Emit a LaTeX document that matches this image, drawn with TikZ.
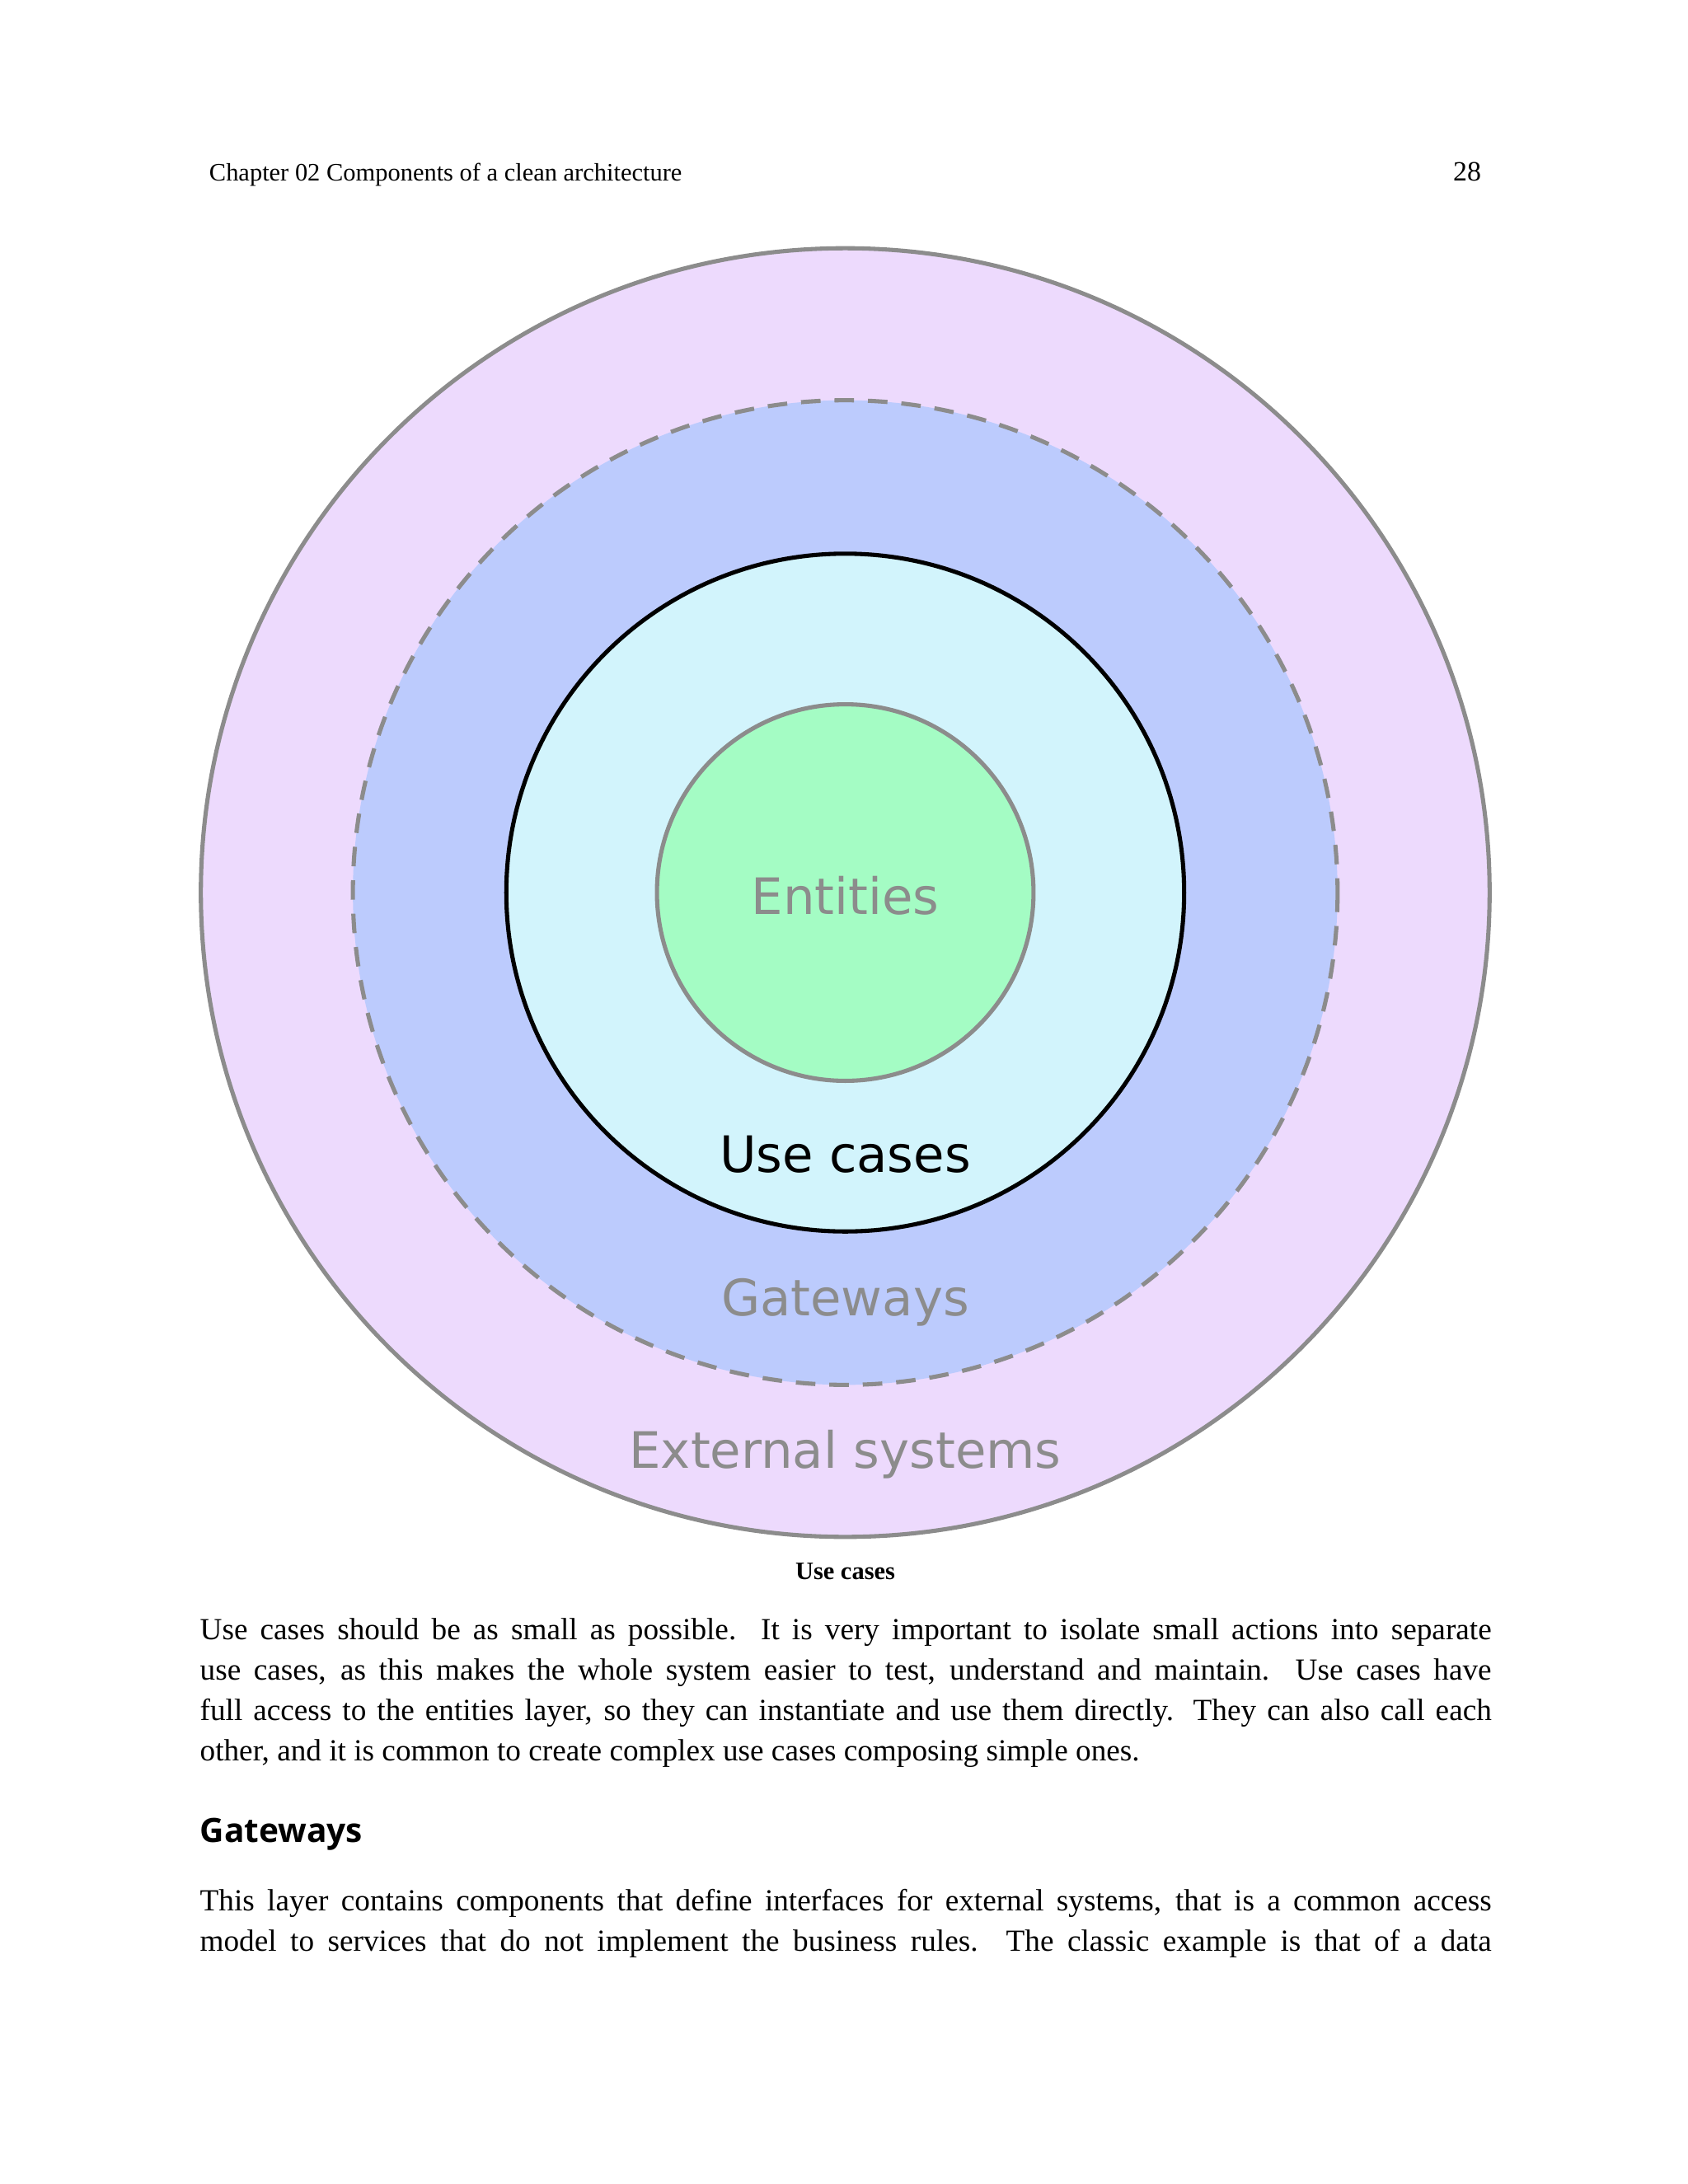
\documentclass[tikz,border=0pt]{standalone}
\usepackage{fontspec}
\setmainfont{Liberation Serif}
\newfontfamily\dejavu{DejaVu Sans}
\newfontfamily\opensans{Open Sans}
\begin{document}
\begin{tikzpicture}[x=0.5pt,y=-0.5pt,
  ring/.style={line width=1.5pt},
  lab/.style={font=\dejavu\fontsize{18}{20}\selectfont, text=black!45}]
\useasboundingbox[fill=white] (0,0) rectangle (1210,1566);
\node[anchor=base west,font=\fontsize{9}{10}\selectfont] (hdr) at (143,130) {Chapter 02 Components of a clean architecture};
\node[anchor=base east,font=\fontsize{10}{11}\selectfont] (pg) at (1069,130) {28};
\draw[ring,draw=black!45,fill={rgb,255:red,237;green,218;blue,253}] (606,640) circle (462);
\draw[ring,draw=black!45,dash pattern=on 7pt off 5pt,fill={rgb,255:red,188;green,203;blue,253}] (606,640) circle (353);
\draw[ring,draw=black,fill={rgb,255:red,210;green,244;blue,252}] (606,640) circle (243);
\draw[ring,draw=black!45,fill={rgb,255:red,164;green,252;blue,196}] (606,640) circle (135);
\node[lab] (ent) at (606,642) {Entities};
\node[lab,text=black] (uc) at (606,828) {Use cases};
\node[lab] (gw) at (606,934) {Gateways};
\node[lab] (ext) at (606,1043) {External systems};
\node[font=\bfseries\fontsize{9}{10}\selectfont] (cap) at (606,1127) {Use cases};
\node[anchor=north west,text width=463pt,align=justify,inner sep=0pt,font=\fontsize{11}{14.5}\selectfont] (p1) at (143,1160) {Use cases should be as small as possible. It is very important to isolate small actions into separate\linebreak use cases, as this makes the whole system easier to test, understand and maintain. Use cases have\linebreak full access to the entities layer, so they can instantiate and use them directly. They can also call each\linebreak other, and it is common to create complex use cases composing simple ones.};
\node[anchor=base west,inner sep=0pt,font=\opensans\bfseries\fontsize{12}{14}\selectfont] (h2) at (143,1321) {Gateways};
\node[anchor=north west,text width=463pt,align=justify,inner sep=0pt,font=\fontsize{11}{14.5}\selectfont] (p2) at (143,1354) {This layer contains components that define interfaces for external systems, that is a common access\linebreak model to services that do not implement the business rules. The classic example is that of a data\linebreak};
\end{tikzpicture}
\end{document}
